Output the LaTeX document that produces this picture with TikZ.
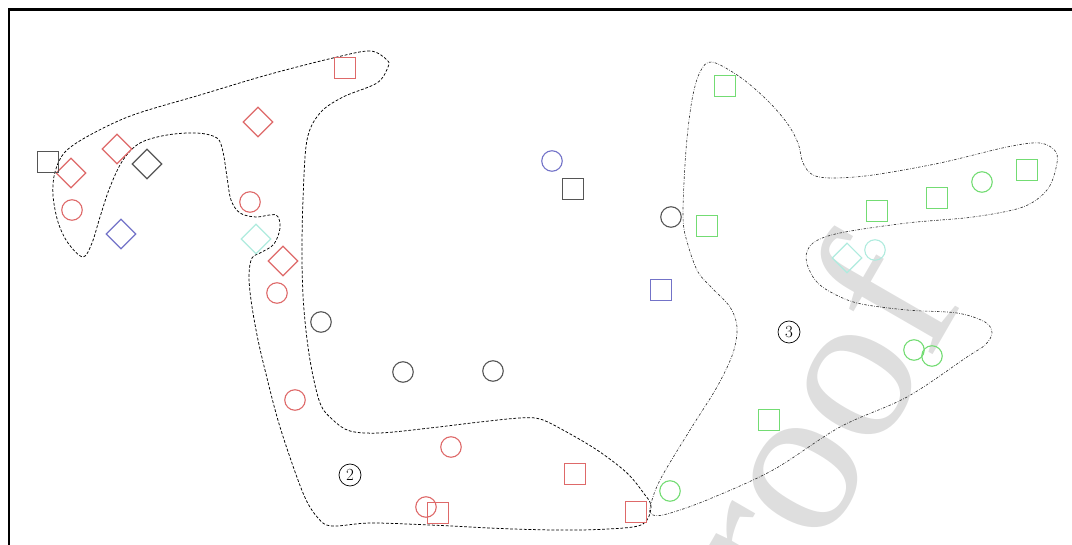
\documentclass[tikz,border=0pt]{standalone}
\usepackage{fontspec}
\newfontfamily\wmfont{Liberation Serif}
\usetikzlibrary{shapes.geometric}
\definecolor{cred}{RGB}{222,105,105}
\definecolor{cblk}{RGB}{85,85,85}
\definecolor{cblu}{RGB}{115,115,200}
\definecolor{ccya}{RGB}{175,235,222}
\definecolor{cgrn}{RGB}{115,220,115}
\definecolor{wmark}{RGB}{222,222,222}
\tikzset{
  sq/.style={draw, rectangle, minimum size=21.5pt, inner sep=0pt, line width=1.1pt},
  ci/.style={draw, circle, minimum size=20.5pt, inner sep=0pt, line width=1.1pt},
  di/.style={draw, diamond, minimum size=30pt, inner sep=0pt, line width=1.1pt},
  regionA/.style={draw=black, line width=0.75pt, dash pattern=on 2.8pt off 1.8pt},
  regionB/.style={draw=black!80, line width=0.65pt, dash pattern=on 2.5pt off 1.5pt on 0.6pt off 1.5pt},
  lbl/.style={draw, circle, minimum size=22pt, inner sep=0pt, line width=0.7pt, font=\fontsize{17}{17}\selectfont}
}
\begin{document}
\begin{tikzpicture}[x=1pt,y=-1pt]
\useasboundingbox (0,0) rectangle (1072,545);
% watermark
\node[wmark, rotate=60, anchor=base, font=\wmfont\fontsize{215}{215}\selectfont, inner sep=0pt] (wm) at (875,456) {roof};
% frame
\draw[line width=2.2pt] (9,545) -- (9,9.5) -- (1072,9.5);
% region 2 outline
\draw[regionA] plot[smooth cycle, tension=0.55] coordinates {
(387,60) (370,51) (333,58) (267,75) (200,95) (133,115) (90,135) (65,152)
(55,172) (53,195) (58,222) (68,243) (83,257) (92,243) (100,217) (110,187)
(123,160) (140,143) (167,135) (197,133) (217,138) (223,152) (227,177) (231,200)
(240,213) (256,217) (276,215) (280,228) (274,244) (262,252) (252,258) (249,275)
(251,300) (257,335) (265,370) (280,427) (303,493) (318,518) (332,526) (370,523)
(430,525) (513,529) (580,530) (633,527) (647,520) (651,505) (645,495) (627,473)
(597,450) (563,430) (540,419) (520,418) (480,422) (430,428) (380,433) (350,431)
(333,420) (320,403) (310,360) (304,310) (302,260) (303,200) (307,140) (320,113)
(343,97) (377,83) (388,67)};
% region 3 outline
\draw[regionB] plot[smooth cycle, tension=0.55] coordinates {
(712,62) (740,77) (767,100) (787,123) (798,143) (803,163) (813,175) (833,178)
(873,175) (940,163) (1007,147) (1040,143) (1056,152) (1056,168) (1047,190) (1023,207)
(973,217) (907,223) (840,233) (813,243) (806,258) (813,277) (827,290) (857,303)
(907,310) (957,313) (985,322) (992,333) (985,345) (967,357) (907,397) (840,427)
(773,470) (707,500) (667,514) (653,515) (650,508) (660,480) (690,430) (717,387)
(733,353) (737,327) (730,307) (712,288) (698,272) (688,245) (683,217) (686,150)
(692,100) (700,72)};
% red
\node[sq, cred] (r1) at (345,68) {};
\node[di, cred] (r2) at (258,122) {};
\node[di, cred] (r3) at (117,149) {};
\node[di, cred] (r4) at (71,173) {};
\node[ci, cred] (r5) at (72,210) {};
\node[ci, cred] (r6) at (250,202) {};
\node[di, cred] (r7) at (283,261) {};
\node[ci, cred] (r8) at (277,293) {};
\node[ci, cred] (r9) at (295,400) {};
\node[ci, cred] (r10) at (451,447) {};
\node[sq, cred] (r11) at (575,474) {};
\node[ci, cred] (r12) at (426,507) {};
\node[sq, cred] (r13) at (438,513) {};
\node[sq, cred] (r14) at (636,512) {};
% black
\node[sq, cblk] (k1) at (48,162) {};
\node[di, cblk] (k2) at (147,164) {};
\node[ci, cblk] (k3) at (321,322) {};
\node[ci, cblk] (k4) at (403,372) {};
\node[ci, cblk] (k5) at (493,371) {};
\node[sq, cblk] (k6) at (573,189) {};
\node[ci, cblk] (k7) at (671,217) {};
% blue
\node[di, cblu] (b1) at (121,234) {};
\node[ci, cblu] (b2) at (552,161) {};
\node[sq, cblu] (b3) at (661,290) {};
% cyan
\node[di, ccya] (c1) at (256,239) {};
\node[ci, ccya] (c2) at (875,250) {};
\node[di, ccya] (c3) at (847,258) {};
% green
\node[sq, cgrn] (g1) at (725,86) {};
\node[sq, cgrn] (g2) at (707,226) {};
\node[sq, cgrn] (g3) at (877,211) {};
\node[sq, cgrn] (g4) at (937,198) {};
\node[ci, cgrn] (g5) at (982,182) {};
\node[sq, cgrn] (g6) at (1027,170) {};
\node[ci, cgrn] (g7) at (914,350) {};
\node[ci, cgrn] (g8) at (932,356) {};
\node[sq, cgrn] (g9) at (769,420) {};
\node[ci, cgrn] (g10) at (670,491) {};
% labels
\node[lbl] (l2) at (350,475) {2};
\node[lbl] (l3) at (789,332) {3};
\end{tikzpicture}
\end{document}
